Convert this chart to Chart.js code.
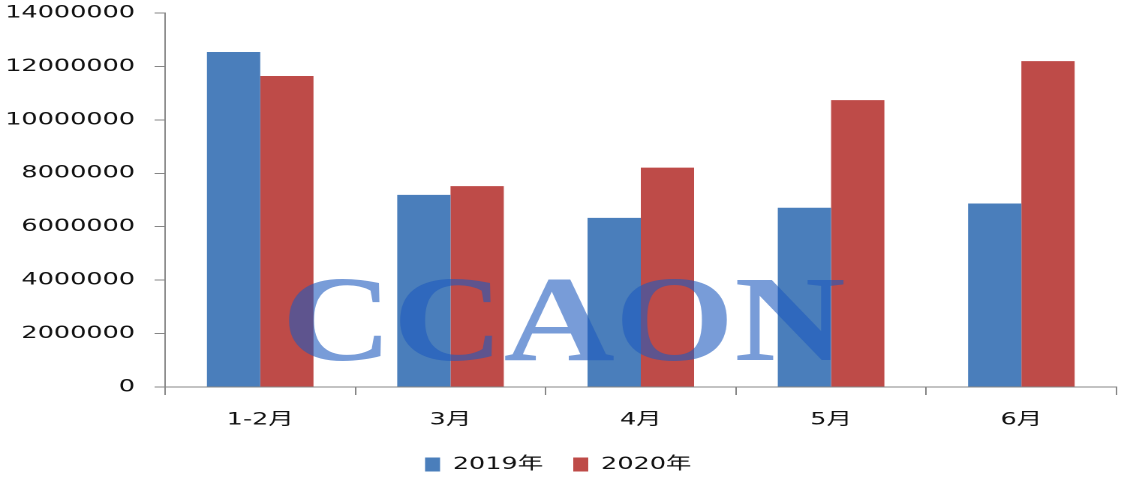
<!DOCTYPE html>
<html>
<head>
<meta charset="utf-8">
<script src="https://cdn.jsdelivr.net/npm/chart.js@4/dist/chart.umd.min.js"></script>
<style>
    html, body { margin: 0; padding: 0; background: #fff; overflow: hidden; }
    #caixa { width: 747px; height: 483px; transform: scaleX(1.50067); transform-origin: 0 0; }
</style>
</head>
<body>
<div id="caixa"><canvas id="grafico"></canvas></div>
<script>
const meses = ['1-2月', '3月', '4月', '5月', '6月']
const valores2019 = [12540000, 7190000, 6330000, 6710000, 6870000]
const valores2020 = [11640000, 7520000, 8210000, 10740000, 12200000]
const marcaDagua = 'CCAON'

const fonte = { family: 'DejaVu Sans, "Noto Sans CJK SC", sans-serif', size: 17 }
const corEixo = '#868686'

// marca d'agua por cima das barras
const pluginMarca = {
    id: 'marca',
    afterDatasetsDraw(chart) {
        const ctx = chart.ctx
        ctx.save()
        ctx.translate(375.5, 360)
        ctx.scale(0.84, 1)
        ctx.font = 'bold 122px "Liberation Serif", "Times New Roman", serif'
        ctx.textAlign = 'center'
        ctx.textBaseline = 'alphabetic'
        ctx.fillStyle = 'rgba(30, 90, 190, 0.6)'
        ctx.fillText(marcaDagua, 0, 0)
        ctx.restore()
    }
}

const grafico = new Chart(document.getElementById('grafico'), {
    type: 'bar',
    data: {
        labels: meses,
        datasets: [{
            label: '2019年',
            data: valores2019,
            backgroundColor: '#4A7EBB',
            categoryPercentage: 0.56,
            barPercentage: 1
        }, {
            label: '2020年',
            data: valores2020,
            backgroundColor: '#BE4B48',
            categoryPercentage: 0.56,
            barPercentage: 1
        }]
    },
    options: {
        responsive: true,
        maintainAspectRatio: false,
        animation: false,
        devicePixelRatio: 2,
        layout: { padding: { top: 13, right: 3, left: 0, bottom: 0 } },
        plugins: {
            tooltip: { enabled: false },
            legend: {
                position: 'bottom',
                labels: {
                    font: fonte,
                    color: '#111',
                    boxWidth: 10,
                    boxHeight: 14,
                    padding: 20
                }
            }
        },
        scales: {
            x: {
                grid: { drawOnChartArea: false, drawTicks: true, tickLength: 8, color: corEixo },
                border: { color: corEixo },
                ticks: { font: fonte, color: '#111', padding: 15 },
                afterFit: (escala) => { escala.height = 49 }
            },
            y: {
                min: 0,
                max: 14000000,
                grid: { drawOnChartArea: false, drawTicks: true, tickLength: 7, color: corEixo },
                border: { color: corEixo },
                ticks: {
                    stepSize: 2000000,
                    font: fonte,
                    color: '#111',
                    padding: 13,
                    callback: (v) => String(v)
                },
                afterFit: (escala) => {
                    escala.width = 110
                    escala.paddingTop = 0
                    escala.paddingBottom = 0
                }
            }
        }
    },
    plugins: [pluginMarca]
})
</script>
</body>
</html>
